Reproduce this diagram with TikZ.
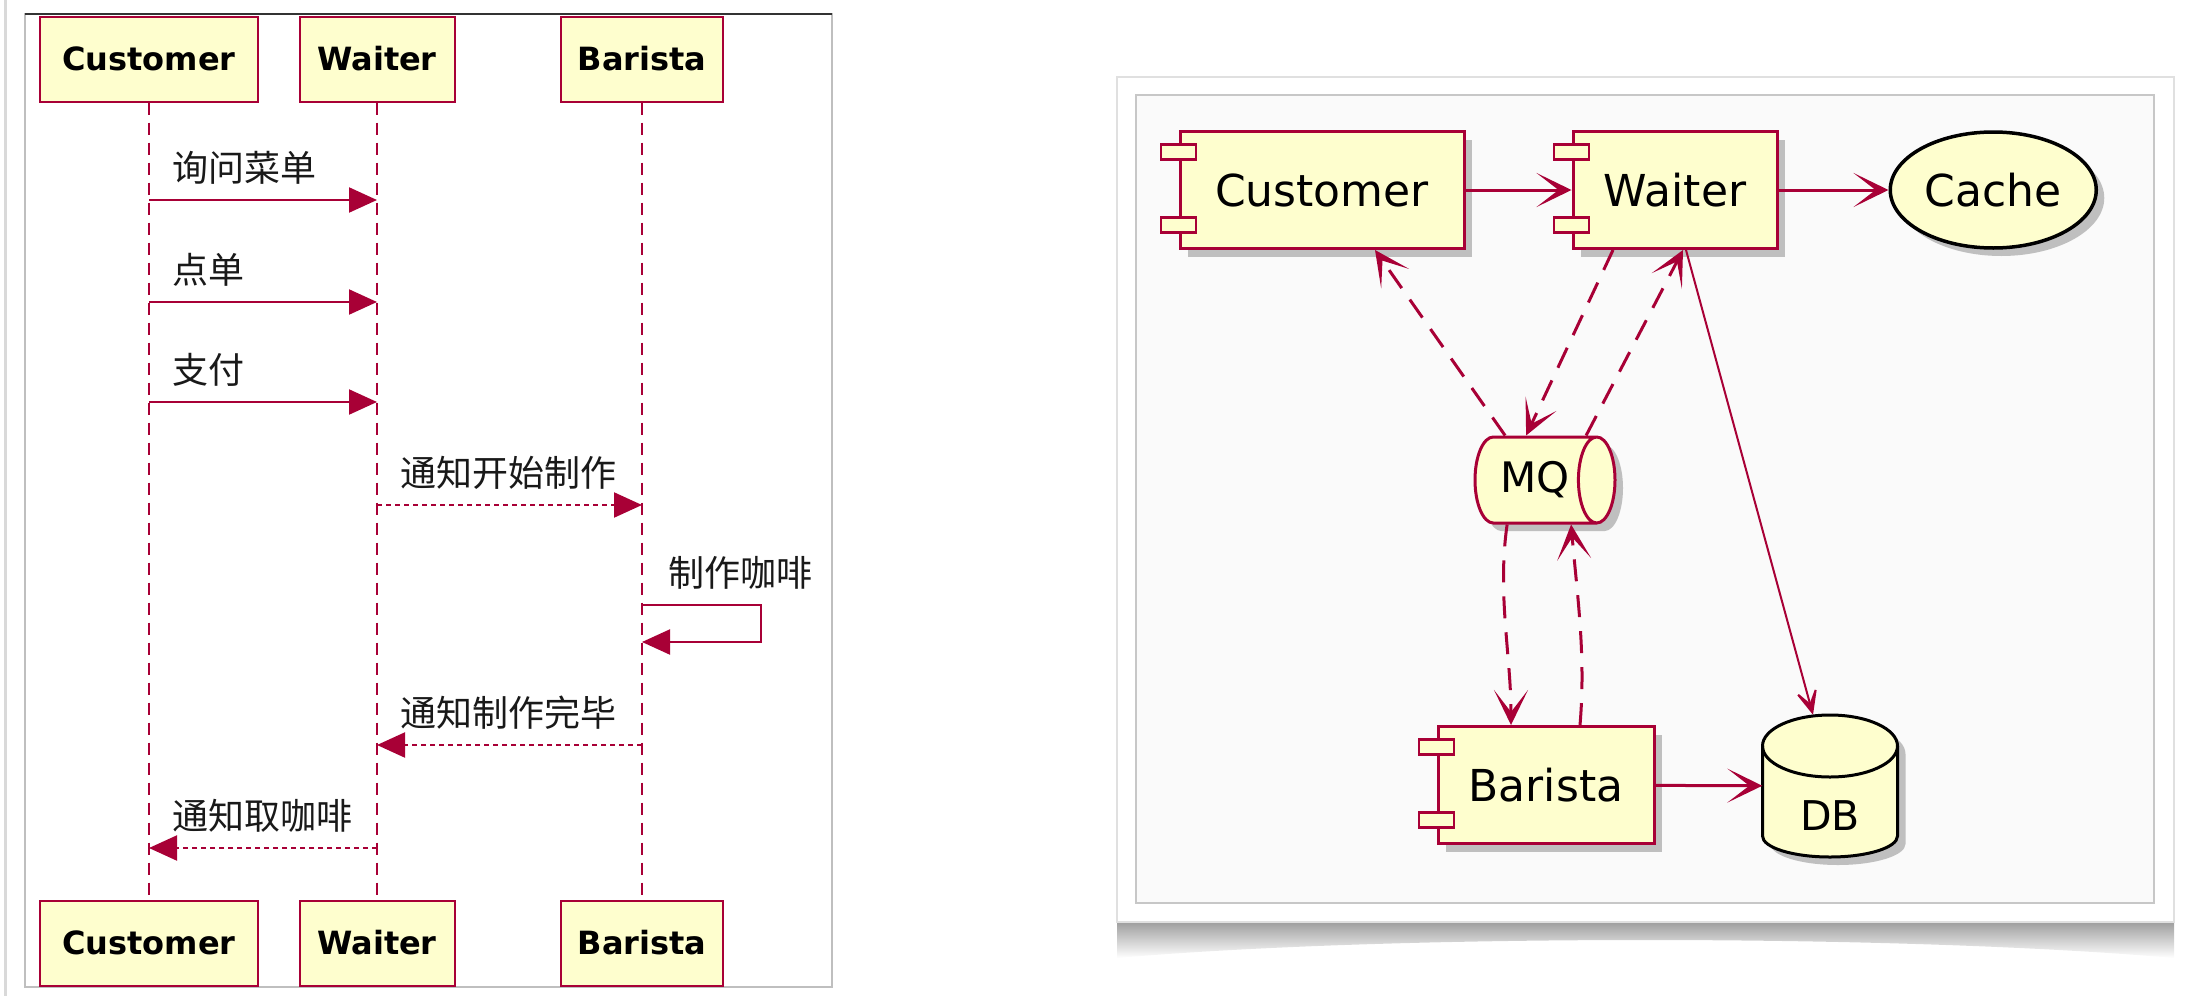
\documentclass[tikz,border=0pt]{standalone}
\usepackage{fontspec}
\setmainfont{DejaVu Sans}
\newfontfamily\cjk{Noto Sans CJK SC}
\usepackage{tikz}
\usetikzlibrary{positioning, arrows.meta, shapes.geometric, shadows}
\definecolor{umlred}{HTML}{A80036}
\definecolor{umlfill}{HTML}{FEFECE}
\tikzset{participant/.style={
        draw=umlred,
        line width=2pt,
        rectangle,
        fill=umlfill,
        minimum height=85pt,
        inner sep=0pt,
        font=\fontsize{32}{38}\selectfont\bfseries
}}
\tikzset{lifeline/.style={draw=umlred,line width=2pt,dash pattern=on 12pt off 8pt}}
\tikzset{seqmsg/.style={draw=umlred,line width=2.2pt,-{Triangle[length=28pt,width=25pt]}}}
\tikzset{replymsg/.style={seqmsg,dash pattern=on 5pt off 4pt}}
\tikzset{msglabel/.style={
        anchor=base west,
        inner sep=0pt,
        xshift=22pt,
        yshift=19pt,
        text=black!90,
        font=\cjk\fontsize{36}{40}\selectfont
}}
\tikzset{umlshadow/.style={drop shadow={shadow xshift=8pt,shadow yshift=-8pt,fill=black!40,opacity=0.6}}}
\tikzset{component/.style={
        draw=umlred,
        line width=3pt,
        rectangle,
        fill=umlfill,
        minimum height=117pt,
        inner sep=0pt,
        umlshadow
}}
\tikzset{portbox/.style={
        draw=umlred,
        line width=2.5pt,
        rectangle,
        fill=umlfill,
        minimum width=35pt,
        minimum height=15pt,
        inner sep=0pt
}}
\tikzset{cacheshape/.style={
        draw=black,
        line width=3.5pt,
        ellipse,
        fill=umlfill,
        minimum width=206pt,
        minimum height=116pt,
        inner sep=0pt,
        umlshadow
}}
\tikzset{queue/.style={
        draw=umlred,
        line width=3pt,
        cylinder,
        aspect=1.0,
        fill=umlfill,
        minimum width=86pt,
        minimum height=140pt,
        inner sep=0pt,
        font=\fontsize{42}{48}\selectfont,
        umlshadow
}}
\tikzset{database/.style={
        rectangle,
        minimum width=135pt,
        minimum height=142pt,
        inner sep=0pt,
        text height=88pt,
        text depth=0pt,
        font=\fontsize{41}{46}\selectfont
}}
\tikzset{dbline/.style={draw=black,line width=3pt,fill=umlfill}}
\tikzset{depedge/.style={draw=umlred,line width=3pt,-{Stealth[length=35pt,width=34pt,inset=22pt]}}}
\tikzset{dashededge/.style={depedge,dash pattern=on 22pt off 14pt}}
\tikzset{thinedge/.style={draw=umlred,line width=2pt,-{Stealth[length=32pt,width=28pt,inset=20pt]}}}

\begin{document}
\begin{tikzpicture}[x=1pt,y=-1pt,font=\fontsize{44}{50}\selectfont]
\useasboundingbox (0,0) rectangle (2188,996);

% sequence diagram
\draw[black!15,line width=3pt] (5,0) -- (5,996);
\draw[black!25,line width=1.5pt] (25,14) rectangle (832,987);
\draw[black!80,line width=2.5pt] (25,14) -- (832,14);

\node[participant, minimum width=218pt] (custTop) at (149,59) {Customer};
\node[participant, minimum width=155pt] (waiterTop) at (377,59) {Waiter};
\node[participant, minimum width=162pt] (baristaTop) at (642,59) {Barista};
\node[participant, minimum width=218pt] (custBot) at (149,943) {Customer};
\node[participant, minimum width=155pt] (waiterBot) at (377,943) {Waiter};
\node[participant, minimum width=162pt] (baristaBot) at (642,943) {Barista};

\draw[lifeline] (custTop) -- (custBot);
\draw[lifeline] (waiterTop) -- (waiterBot);
\draw[lifeline] (baristaTop) -- (baristaBot);

\coordinate (m1) at (0,200);
\coordinate (m2) at (0,302);
\coordinate (m3) at (0,402);
\coordinate (m4) at (0,505);
\coordinate (m5) at (0,605);
\coordinate (m5r) at (0,642);
\coordinate (m6) at (0,745);
\coordinate (m7) at (0,848);

\draw[seqmsg] (custTop |- m1) -- node[msglabel, pos=0] {询问菜单} (waiterTop |- m1);
\draw[seqmsg] (custTop |- m2) -- node[msglabel, pos=0] {点单} (waiterTop |- m2);
\draw[seqmsg] (custTop |- m3) -- node[msglabel, pos=0] {支付} (waiterTop |- m3);
\draw[replymsg] (waiterTop |- m4) -- node[msglabel, pos=0] {通知开始制作} (baristaTop |- m4);
\draw[seqmsg] (baristaTop |- m5) -- node[msglabel, pos=0, xshift=3pt] {制作咖啡} ++(119,0) -- ++(0,37) -- (baristaTop |- m5r);
\draw[replymsg] (baristaTop |- m6) -- node[msglabel, pos=1] {通知制作完毕} (waiterTop |- m6);
\draw[replymsg] (waiterTop |- m7) -- node[msglabel, pos=1] {通知取咖啡} (custTop |- m7);

% component diagram
\shade[top color=black!38, bottom color=white] (1117,922) -- (2174,922) -- (2174,958) .. controls (1900,934) and (1390,934) .. (1117,958) -- cycle;
\filldraw[draw=black!12, fill=white, line width=1.5pt] (1117,77) rectangle (2174,922);
\filldraw[draw=black!22, fill=black!2, line width=1.5pt] (1136,95) rectangle (2154,903);

% DB drum
\filldraw[dbline, umlshadow] (1762.5,746) -- (1762.5,836) arc[start angle=180, end angle=0, x radius=67.5, y radius=21] -- (1897.5,746) arc[start angle=0, end angle=-180, x radius=67.5, y radius=31] -- cycle;
\draw[dbline, fill=none] (1762.5,746) arc[start angle=180, end angle=0, x radius=67.5, y radius=31];

\node[component, minimum width=284pt] (custComp) at (1322,190) {Customer};
\node[component, minimum width=204pt, right=106pt of custComp] (waiterComp) {Waiter};
\node[cacheshape, right=110pt of waiterComp] (cache) {Cache};
\node[queue, anchor=shape center] (mq) at (1545,480) {MQ};
\node[component, minimum width=216pt] (baristaComp) at (1546,785) {Barista};
\node[database] (db) at (1830,786) {DB};

\foreach \c in {custComp,waiterComp,baristaComp}{
  \node[portbox] (\c-a) at ([yshift=-22pt]\c.north west) {};
  \node[portbox] (\c-b) at ([yshift=25pt]\c.south west) {};
}

\draw[depedge] (custComp) -- (waiterComp);
\draw[depedge] (waiterComp) -- (cache);
\draw[depedge] (baristaComp) -- (db);
\draw[dashededge] ([xshift=-30pt]mq.north) -- ([xshift=53pt]custComp.south);
\draw[dashededge] ([xshift=-62pt]waiterComp.south) -- ([xshift=-9pt]mq.north);
\draw[dashededge] ([xshift=51pt]mq.north) -- ([xshift=8pt]waiterComp.south);
\draw[thinedge] ([xshift=11pt]waiterComp.south) -- ([xshift=-17pt]db.north);
\draw[dashededge] ([xshift=-28pt]mq.south) .. controls +(-10,70) and +(0,-70) .. ([xshift=-35pt]baristaComp.north);
\draw[dashededge] ([xshift=34pt]baristaComp.north) .. controls +(6,-70) and +(6,70) .. ([xshift=36pt]mq.south);
\end{tikzpicture}
\end{document}
